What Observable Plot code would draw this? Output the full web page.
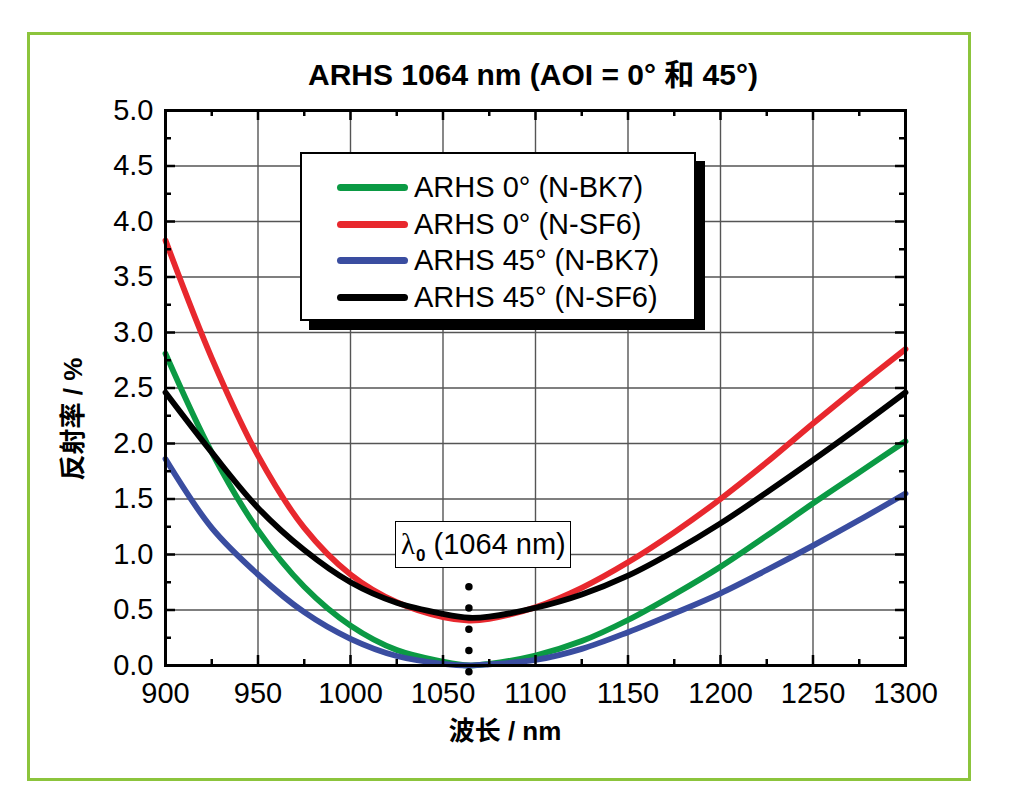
<!DOCTYPE html>
<html>
<head>
<meta charset="utf-8">
<script src="https://cdn.jsdelivr.net/npm/d3@7"></script>
<script src="https://cdn.jsdelivr.net/npm/@observablehq/plot@0.6"></script>
<style>
  body { margin: 0; background: #fff; }
  #wrap { position: relative; width: 1010px; height: 811px; overflow: hidden;
          font-family: "Liberation Sans", Arial, "Noto Sans CJK SC", sans-serif; color: #000; }
  #wrap svg { position: absolute; left: 0; top: 0; }
  .frame { position: absolute; left: 27px; top: 32px; width: 938px; height: 743px;
           border: 3px solid #8cc43c; }
  .title { position: absolute; left: 0; width: 1066px; top: 60px; text-align: center;
           font-size: 30px; line-height: 29px; font-weight: bold; white-space: nowrap; }
  .xlabel { position: absolute; left: 405px; width: 200px; top: 718px; text-align: center;
            font-size: 26px; line-height: 26px; font-weight: bold; white-space: nowrap;
            font-family: "Liberation Sans", "Noto Sans CJK SC", sans-serif; }
  .ylabel { position: absolute; left: 73px; top: 419px; transform: translate(-50%, -50%) rotate(-90deg);
            font-size: 26px; line-height: 26px; font-weight: bold; white-space: nowrap;
            font-family: "Liberation Sans", "Noto Sans CJK SC", sans-serif; }
  .legend { position: absolute; left: 300px; top: 152px; width: 392px; height: 165px;
            border: 2px solid #000; background: #fff; box-shadow: 9px 9px 0 #000; }
  .row { position: absolute; left: 0; height: 30px; }
  .sw { position: absolute; left: 35px; top: 12px; width: 71px; height: 7px; border-radius: 4px; }
  .lt { position: absolute; left: 112px; top: 0; font-size: 29px; line-height: 30px; white-space: nowrap; }
  .lam { position: absolute; left: 395px; top: 521px; width: 174px; height: 45px;
         border: 1.5px solid #000; background: #fff; }
  .lam span.t { position: absolute; left: 5px; top: 7px; font-size: 29px; line-height: 30px; white-space: nowrap; }
  .lam .g { font-family: "Liberation Serif", "DejaVu Serif", serif; }
  .lam sub { font-size: 17px; font-weight: bold; vertical-align: -7px; margin-left: 1px; }
</style>
</head>
<body>
<div id="wrap">
  <div class="frame"></div>
</div>
<script>
// ---- data ----
const wavelength = [900, 925, 950, 975, 1000, 1025, 1050, 1064, 1075, 1100, 1125, 1150, 1175, 1200, 1225, 1250, 1275, 1300];
const arhs0BK7  = [2.81, 1.92, 1.22, 0.71, 0.36, 0.14, 0.035, 0.00, 0.015, 0.09, 0.22, 0.41, 0.64, 0.89, 1.17, 1.46, 1.74, 2.02];
const arhs0SF6  = [3.83, 2.77, 1.89, 1.24, 0.82, 0.57, 0.435, 0.405, 0.42, 0.525, 0.70, 0.93, 1.20, 1.50, 1.83, 2.18, 2.52, 2.85];
const arhs45BK7 = [1.86, 1.24, 0.82, 0.48, 0.24, 0.085, 0.015, 0.00, 0.01, 0.05, 0.15, 0.30, 0.47, 0.65, 0.86, 1.08, 1.31, 1.55];
const arhs45SF6 = [2.46, 1.92, 1.42, 1.04, 0.75, 0.565, 0.465, 0.43, 0.44, 0.52, 0.64, 0.81, 1.03, 1.28, 1.56, 1.85, 2.15, 2.46];
const seriesNames  = ["ARHS 0° (N-BK7)", "ARHS 0° (N-SF6)", "ARHS 45° (N-BK7)", "ARHS 45° (N-SF6)"];
const seriesValues = [arhs0BK7, arhs0SF6, arhs45BK7, arhs45SF6];
const seriesColors = ["#0b9a44", "#e8282e", "#3a4da0", "#000000"];
const xTicks      = [900, 950, 1000, 1050, 1100, 1150, 1200, 1250, 1300];
const xMinorTicks = [925, 975, 1025, 1075, 1125, 1175, 1225, 1275];
const yTicks      = [0, 0.5, 1, 1.5, 2, 2.5, 3, 3.5, 4, 4.5, 5];
const yMinorTicks = [0.25, 0.75, 1.25, 1.75, 2.25, 2.75, 3.25, 3.75, 4.25, 4.75];
const lambda0 = 1064;
const titleText = "ARHS 1064 nm (AOI = 0° 和 45°)";
const xLabel = "波长 / nm";
const yLabel = "反射率 / %";

const rows = [];
seriesNames.forEach((name, i) => wavelength.forEach((w, j) => rows.push({series: name, x: w, y: seriesValues[i][j]})));

const fw = 1010 - 165 - 105, fh = 811 - 110 - 146;

const chart = Plot.plot({
  width: 1010, height: 811,
  marginLeft: 165, marginRight: 105, marginTop: 110, marginBottom: 146,
  x: {domain: [900, 1300]},
  y: {domain: [0, 5]},
  color: {domain: seriesNames, range: seriesColors},
  style: {fontFamily: '"Liberation Sans", Arial, sans-serif', background: "transparent", color: "#000", overflow: "visible"},
  marks: [
    Plot.gridX(xTicks.slice(1, -1), {stroke: "#555", strokeOpacity: 1, strokeWidth: 1.4}),
    Plot.gridY(yTicks.slice(1, -1), {stroke: "#555", strokeOpacity: 1, strokeWidth: 1.4}),
    Plot.line(rows, {x: "x", y: "y", z: "series", stroke: "series", strokeWidth: 5.8, curve: "catmull-rom"}),
    Plot.ruleX([lambda0], {y1: -0.06, y2: 0.71, stroke: "#000", strokeWidth: 7.5, strokeDasharray: "0 21.25", strokeLinecap: "round"}),
    Plot.frame({stroke: "#000", strokeWidth: 3}),
    // inward ticks
    Plot.tickX(xTicks, {x: d => d, insetTop: fh - 10, stroke: "#000", strokeWidth: 2.5}),
    Plot.tickX(xTicks, {x: d => d, insetBottom: fh - 10, stroke: "#000", strokeWidth: 2.5}),
    Plot.tickX(xMinorTicks, {x: d => d, insetTop: fh - 6, stroke: "#000", strokeWidth: 2.5}),
    Plot.tickX(xMinorTicks, {x: d => d, insetBottom: fh - 6, stroke: "#000", strokeWidth: 2.5}),
    Plot.tickY(yTicks, {y: d => d, insetRight: fw - 10, stroke: "#000", strokeWidth: 2.5}),
    Plot.tickY(yTicks, {y: d => d, insetLeft: fw - 10, stroke: "#000", strokeWidth: 2.5}),
    Plot.tickY(yMinorTicks, {y: d => d, insetRight: fw - 6, stroke: "#000", strokeWidth: 2.5}),
    Plot.tickY(yMinorTicks, {y: d => d, insetLeft: fw - 6, stroke: "#000", strokeWidth: 2.5}),
    Plot.axisX({ticks: xTicks, tickSize: 0, tickPadding: 17, fontSize: 29, label: null, tickFormat: d3.format("d")}),
    Plot.axisY({ticks: yTicks, tickSize: 0, tickPadding: 12, fontSize: 29, label: null, tickFormat: d3.format(".1f")})
  ]
});

const wrap = document.getElementById("wrap");
wrap.appendChild(chart);

// title and axis labels
const t = document.createElement("div"); t.className = "title"; t.textContent = titleText; wrap.appendChild(t);
const xl = document.createElement("div"); xl.className = "xlabel"; xl.textContent = xLabel; wrap.appendChild(xl);
const yl = document.createElement("div"); yl.className = "ylabel"; yl.textContent = yLabel; wrap.appendChild(yl);

// legend
const lg = document.createElement("div"); lg.className = "legend";
const rowTops = [18, 54.5, 91, 128];
seriesNames.forEach((name, i) => {
  const r = document.createElement("div"); r.className = "row"; r.style.top = rowTops[i] + "px";
  const sw = document.createElement("div"); sw.className = "sw"; sw.style.background = seriesColors[i];
  const lt = document.createElement("div"); lt.className = "lt"; lt.textContent = name;
  r.appendChild(sw); r.appendChild(lt); lg.appendChild(r);
});
wrap.appendChild(lg);

// lambda0 annotation
const lam = document.createElement("div"); lam.className = "lam";
lam.innerHTML = '<span class="t"><span class="g">λ</span><sub>0</sub> (1064 nm)</span>';
wrap.appendChild(lam);
</script>
</body>
</html>
